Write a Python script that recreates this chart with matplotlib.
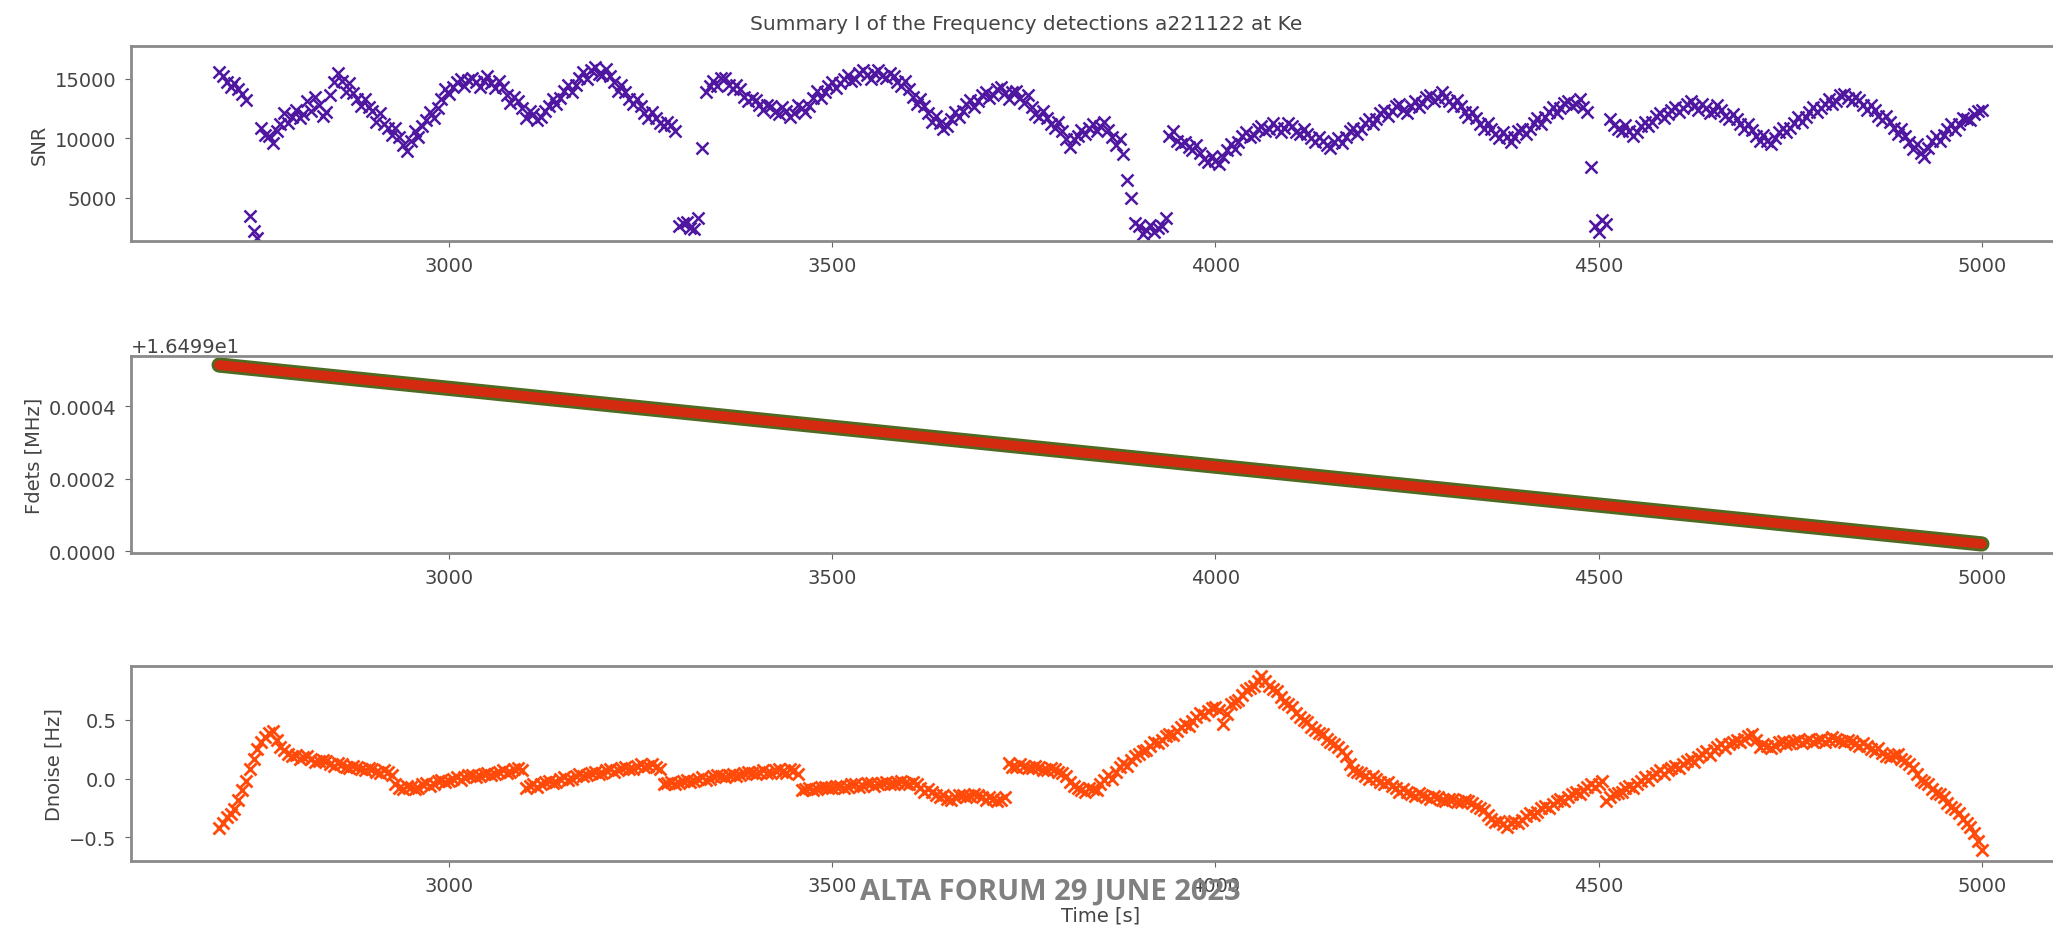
import numpy as np
import matplotlib
matplotlib.use("Agg")
import matplotlib.pyplot as plt
from matplotlib.ticker import ScalarFormatter

# SNR / Doppler-noise scans: series "a" sampled at 2700, 2710, ... s,
# series "b" at 2705, 2715, ... s
scan_start = 2700
scan_step = 10

snr_a = [
    15600, 14700, 14600, 13700, 3500, 1600, 10300, 9600, 11200, 11300,
    12400, 12000, 12300, 12800, 12200, 14700, 14800, 14600, 13300, 13300,
    12300, 12100, 10900, 10900, 9400, 9800, 10100, 11500, 11700, 13300,
    13700, 14700, 14400, 15100, 14300, 15200, 14200, 14300, 13000, 13100,
    11700, 12000, 11800, 12700, 12900, 14000, 13900, 15100, 15000, 16000,
    15300, 15200, 14000, 13900, 12900, 12700, 11700, 11700, 11000, 11100,
    2600, 3000, 2400, 9200, 14400, 14400, 15100, 14100, 14100, 13100,
    13200, 12400, 12700, 12000, 12300, 12100, 12500, 12700, 14000, 13900,
    14700, 14600, 15300, 15000, 15700, 15000, 15700, 15100, 15200, 14400,
    14100, 12900, 12700, 11400, 11300, 11000, 12200, 12300, 13200, 13100,
    13900, 13600, 14300, 13300, 14000, 13000, 12600, 11800, 11700, 10900,
    10600, 9300, 10200, 10400, 11200, 11000, 10700, 9400, 8700, 5000,
    2600, 2300, 2100, 2600, 10200, 9800, 9700, 9000, 8800, 8000,
    8100, 8400, 9500, 9700, 10500, 10300, 11000, 10800, 10900, 10900,
    11000, 10400, 10400, 9700, 9800, 9200, 10000, 10100, 10900, 10800,
    11600, 11600, 12400, 12300, 12900, 12100, 13100, 13000, 13600, 13400,
    13500, 12700, 12700, 11800, 11700, 10800, 10800, 10000, 10100, 10100,
    10800, 10800, 11700, 11800, 12600, 12500, 13100, 12900, 12600, 7600,
    2100, 2800, 11100, 10600, 10600, 10500, 11400, 11400, 12100, 12000,
    12600, 12500, 13100, 12400, 12500, 12300, 12400, 11600, 11600, 10800,
    10700, 9800, 9800, 10000, 10900, 10900, 11800, 11800, 12600, 12500,
    13300, 13100, 13700, 13100, 13200, 12400, 12400, 11500, 11400, 10400,
    10200, 9100, 8800, 9200, 10200, 10300, 11200, 11200, 11600, 12000,
    12400,
]

snr_b = [
    15200, 14300, 14100, 13200, 2200, 10900, 10200, 10600, 12100, 11800,
    11700, 13100, 13500, 11900, 13600, 15500, 13900, 13800, 12700, 12600,
    11400, 11200, 10300, 10100, 8900, 10600, 11000, 12200, 12500, 14100,
    14300, 15000, 14900, 14700, 14800, 14600, 14800, 13600, 13500, 12500,
    12300, 11500, 12300, 13300, 13400, 14500, 14500, 15600, 15700, 15400,
    15800, 14700, 14500, 13300, 13300, 12100, 12200, 11300, 11400, 10600,
    2900, 2500, 3300, 13900, 14800, 15100, 14500, 14500, 13500, 13400,
    12800, 12800, 12200, 12600, 11800, 12800, 12200, 13400, 13400, 14400,
    14200, 15000, 14800, 15500, 15300, 15500, 15200, 15500, 14700, 14800,
    13500, 13300, 12100, 11900, 10800, 11600, 11800, 12900, 12600, 13600,
    13400, 14100, 13800, 13900, 13400, 13600, 12000, 12300, 11200, 11400,
    9900, 9900, 10700, 10900, 10600, 11400, 10100, 9900, 6500, 2900,
    2000, 2700, 2500, 3300, 10600, 9500, 9300, 9400, 8300, 8500,
    7800, 9000, 9100, 10200, 10100, 10800, 10600, 11300, 10500, 11300,
    10500, 10800, 10000, 10100, 9400, 9700, 9600, 10600, 10400, 11300,
    11200, 12100, 11900, 12700, 12400, 12700, 12600, 13500, 13100, 13900,
    13100, 13200, 12200, 12200, 11200, 11300, 10400, 10500, 9700, 10600,
    10400, 11300, 11200, 12200, 12100, 13000, 12700, 13300, 12200, 2600,
    3100, 11600, 10800, 11100, 10200, 11000, 11000, 11900, 11700, 12400,
    12200, 12900, 12700, 12900, 12100, 12800, 11900, 12000, 11200, 11200,
    10200, 10300, 9500, 10500, 10500, 11300, 11400, 12200, 12200, 12900,
    12900, 13600, 13400, 13500, 12800, 12800, 11900, 11900, 10900, 10800,
    9700, 9500, 8400, 9800, 9800, 10800, 10700, 11700, 11500, 12300,
]

dnoise_a = [
    -0.42, -0.33, -0.26, -0.10, 0.08, 0.25, 0.35, 0.40, 0.27, 0.21,
    0.20, 0.18, 0.17, 0.15, 0.15, 0.11, 0.12, 0.09, 0.10, 0.07,
    0.08, 0.05, 0.06, -0.05, -0.09, -0.07, -0.08, -0.04, -0.05, -0.01,
    -0.02, 0.01, 0.01, 0.03, 0.02, 0.05, 0.04, 0.07, 0.06, 0.09,
    -0.08, -0.05, -0.05, -0.02, -0.03, 0.01, 0.00, 0.04, 0.03, 0.06,
    0.05, 0.08, 0.07, 0.10, 0.08, 0.12, 0.11, 0.10, -0.05, -0.03,
    -0.04, -0.01, -0.02, 0.01, 0.00, 0.03, 0.01, 0.04, 0.03, 0.06,
    0.04, 0.07, 0.05, 0.08, 0.05, 0.07, -0.10, -0.08, -0.09, -0.07,
    -0.08, -0.06, -0.07, -0.05, -0.06, -0.04, -0.05, -0.03, -0.05, -0.02,
    -0.05, -0.05, -0.11, -0.11, -0.16, -0.17, -0.16, -0.14, -0.15, -0.14,
    -0.18, -0.17, -0.18, 0.13, 0.10, 0.11, 0.09, 0.10, 0.07, 0.08,
    0.05, -0.03, -0.08, -0.11, -0.09, -0.05, 0.03, 0.06, 0.13, 0.16,
    0.21, 0.24, 0.31, 0.33, 0.38, 0.40, 0.46, 0.49, 0.56, 0.57,
    0.61, 0.46, 0.63, 0.67, 0.75, 0.79, 0.87, 0.79, 0.74, 0.65,
    0.61, 0.52, 0.48, 0.41, 0.38, 0.31, 0.27, 0.19, 0.07, 0.05,
    0.00, 0.00, -0.05, -0.06, -0.11, -0.11, -0.15, -0.14, -0.17, -0.16,
    -0.19, -0.17, -0.20, -0.19, -0.23, -0.27, -0.34, -0.36, -0.41, -0.36,
    -0.35, -0.29, -0.28, -0.23, -0.22, -0.17, -0.16, -0.11, -0.10, -0.05,
    -0.05, -0.19, -0.13, -0.11, -0.06, -0.05, 0.01, 0.02, 0.07, 0.07,
    0.11, 0.12, 0.17, 0.18, 0.23, 0.24, 0.29, 0.29, 0.33, 0.34,
    0.38, 0.27, 0.28, 0.28, 0.32, 0.30, 0.33, 0.32, 0.31, 0.34,
    0.33, 0.34, 0.31, 0.32, 0.28, 0.28, 0.23, 0.22, 0.18, 0.21,
    0.15, 0.09, -0.01, -0.05, -0.12, -0.16, -0.24, -0.29, -0.38, -0.46,
    -0.61,
]

dnoise_b = [
    -0.38, -0.30, -0.18, -0.02, 0.17, 0.31, 0.39, 0.33, 0.24, 0.19,
    0.17, 0.19, 0.14, 0.16, 0.12, 0.13, 0.10, 0.11, 0.08, 0.09,
    0.06, 0.07, 0.03, -0.08, -0.06, -0.09, -0.05, -0.06, -0.02, -0.03,
    0.00, -0.01, 0.03, 0.01, 0.04, 0.03, 0.06, 0.05, 0.08, 0.07,
    -0.06, -0.07, -0.03, -0.04, 0.00, -0.01, 0.02, 0.02, 0.05, 0.04,
    0.07, 0.06, 0.09, 0.08, 0.11, 0.10, 0.12, 0.08, -0.04, -0.05,
    -0.02, -0.03, 0.00, -0.01, 0.02, 0.02, 0.03, 0.02, 0.05, 0.05,
    0.06, 0.05, 0.07, 0.06, 0.08, 0.04, -0.09, -0.10, -0.07, -0.08,
    -0.06, -0.08, -0.05, -0.07, -0.04, -0.06, -0.04, -0.05, -0.03, -0.04,
    -0.03, -0.08, -0.09, -0.14, -0.14, -0.18, -0.14, -0.16, -0.13, -0.16,
    -0.16, -0.19, -0.16, 0.10, 0.12, 0.09, 0.11, 0.07, 0.09, 0.06,
    0.02, -0.06, -0.10, -0.08, -0.10, -0.01, 0.00, 0.10, 0.11, 0.19,
    0.23, 0.28, 0.30, 0.36, 0.37, 0.44, 0.45, 0.52, 0.54, 0.60,
    0.58, 0.55, 0.65, 0.71, 0.77, 0.83, 0.83, 0.76, 0.69, 0.63,
    0.56, 0.50, 0.44, 0.39, 0.34, 0.29, 0.23, 0.12, 0.06, 0.02,
    0.02, -0.03, -0.03, -0.08, -0.09, -0.13, -0.12, -0.16, -0.15, -0.18,
    -0.17, -0.20, -0.18, -0.21, -0.25, -0.31, -0.37, -0.39, -0.38, -0.38,
    -0.32, -0.31, -0.25, -0.25, -0.19, -0.19, -0.13, -0.13, -0.07, -0.07,
    -0.02, -0.16, -0.12, -0.08, -0.08, -0.02, -0.01, 0.05, 0.04, 0.09,
    0.09, 0.15, 0.14, 0.21, 0.20, 0.27, 0.26, 0.31, 0.31, 0.36,
    0.33, 0.29, 0.26, 0.31, 0.29, 0.32, 0.30, 0.34, 0.33, 0.31,
    0.35, 0.32, 0.33, 0.29, 0.30, 0.25, 0.26, 0.19, 0.20, 0.17,
    0.12, 0.04, -0.03, -0.09, -0.13, -0.21, -0.26, -0.34, -0.41, -0.53,
]

# detected frequency every 100 s [MHz]
fdets_time = list(range(2700, 5001, 100))
fdets = [
    16.4995140, 16.4994925, 16.4994710, 16.4994495, 16.4994280, 16.4994065,
    16.4993850, 16.4993635, 16.4993420, 16.4993205, 16.4992990, 16.4992775,
    16.4992560, 16.4992345, 16.4992130, 16.4991915, 16.4991700, 16.4991485,
    16.4991270, 16.4991055, 16.4990840, 16.4990625, 16.4990410, 16.4990195,
]

time_a = scan_start + scan_step * np.arange(len(snr_a))
time_b = scan_start + scan_step / 2 + scan_step * np.arange(len(snr_b))

fig = plt.figure(figsize=(20.53, 9.28), dpi=100)
W, H = 2053, 928

def panel(top, bottom, left=131, right=2070):
    return fig.add_axes([left / W, 1 - bottom / H, (right - left) / W, (bottom - top) / H])

ax1 = panel(47, 242)
ax2 = panel(357, 554)
ax3 = panel(667, 862)

snr_col = '#4f16a0'
for t, v in ((time_a, snr_a), (time_b, snr_b)):
    ax1.plot(t, v, 'x', color=snr_col, markersize=9, mew=1.8)
ax1.set_ylim(1374, 17747)
ax1.set_ylabel('SNR')

ax2.plot(fdets_time, fdets, '-', color='#4f6b22', lw=11, solid_capstyle='round')
ax2.plot(fdets_time, fdets, '-', color='#d42a10', lw=7, solid_capstyle='round')
fmt = ScalarFormatter(useOffset=16.499)
ax2.yaxis.set_major_formatter(fmt)
ax2.set_yticks([16.499, 16.4992, 16.4994])
ax2.set_ylim(16.4989945, 16.499539)
ax2.set_ylabel('Fdets [MHz]')

dn_col = '#ff4a0a'
for t, v in ((time_a, dnoise_a), (time_b, dnoise_b)):
    ax3.plot(t, v, 'x', color=dn_col, markersize=8, mew=2)
ax3.set_ylim(-0.70, 0.956)
ax3.set_yticks([-0.5, 0.0, 0.5])
ax3.set_ylabel('Dnoise [Hz]')
ax3.set_xlabel('Time [s]', fontsize=14, color='#444444', labelpad=8)

for ax in (ax1, ax2, ax3):
    ax.set_xlim(2585, 5115)
    ax.set_xticks([3000, 3500, 4000, 4500, 5000])
    ax.tick_params(labelsize=14, colors='#666666', labelcolor='#444444',
                   length=4.5, pad=6)
    ax.yaxis.label.set_size(14)
    ax.yaxis.label.set_color('#444444')
    for s in ax.spines.values():
        s.set_color('#8a8a8a')
        s.set_linewidth(2)
ax2.yaxis.get_offset_text().set_size(14)
ax2.yaxis.get_offset_text().set_color('#444444')

fig.suptitle('Summary I of the Frequency detections a221122 at Ke',
             x=0.5, y=1 - 24 / H, va='center', fontsize=14.5, color='#444444')

fig.text(1050 / W, 1 - 892 / H, 'ALTA FORUM 29 JUNE 2023', ha='center', va='center',
         fontsize=21, fontweight='bold', color='#808080', family='Open Sans')

fig.savefig('out.png', dpi=100)
